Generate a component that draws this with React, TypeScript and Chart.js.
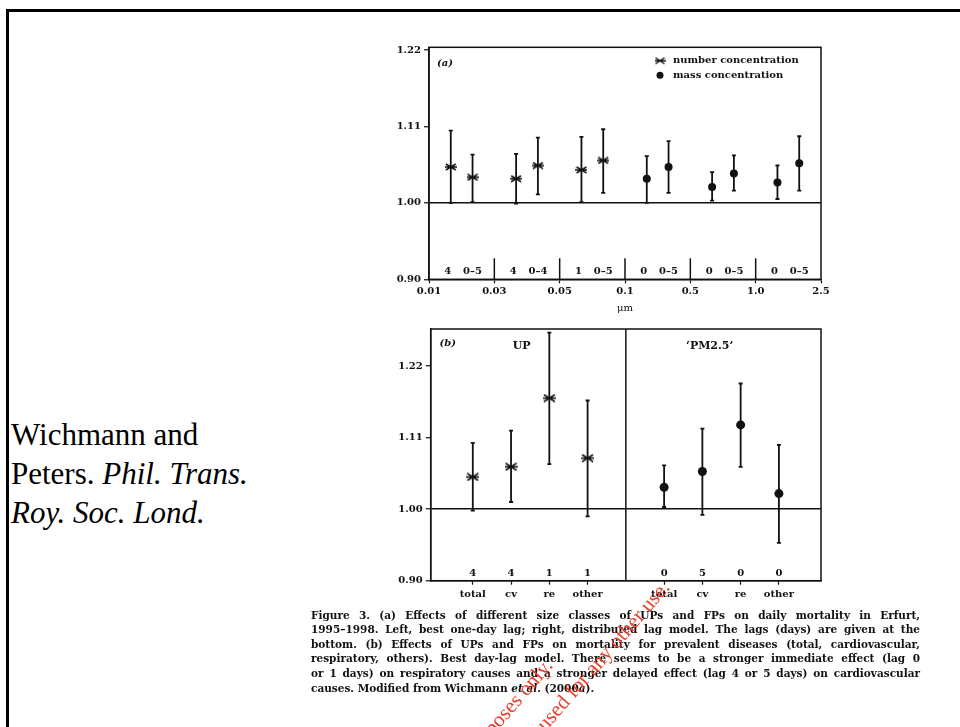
import React, { useEffect, useRef } from 'react';
import { Chart, registerables } from 'chart.js';

Chart.register(...registerables);

// ---------------- data ----------------
// panel (a): size classes (x-axis edges, micrometres)
const sizeClassEdges = ['0.01', '0.03', '0.05', '0.1', '0.5', '1.0', '2.5'];
const sizeClassMetric = ['number', 'number', 'number', 'mass', 'mass', 'mass'];
// left point of each class: best one-day lag
const oneDayLagRR = [1.048, 1.032, 1.044, 1.032, 1.021, 1.027];
const oneDayLagLow = [1.0, 0.999, 1.001, 1.0, 1.003, 1.005];
const oneDayLagHigh = [1.099, 1.066, 1.09, 1.063, 1.041, 1.05];
const oneDayLagDays = ['4', '4', '1', '0', '0', '0'];
// right point of each class: distributed lag model
const distLagRR = [1.034, 1.05, 1.057, 1.048, 1.039, 1.053];
const distLagLow = [1.001, 1.011, 1.013, 1.013, 1.016, 1.016];
const distLagHigh = [1.065, 1.089, 1.101, 1.084, 1.064, 1.091];
const distLagDays = ['0–5', '0–4', '0–5', '0–5', '0–5', '0–5'];

// panel (b): causes of death
const causes = ['total', 'cv', 're', 'other'];
const upRR = [1.046, 1.061, 1.168, 1.074];
const upLow = [0.998, 1.01, 1.065, 0.99];
const upHigh = [1.097, 1.116, 1.28, 1.164];
const upLagDays = ['4', '4', '1', '1'];
const pmRR = [1.031, 1.054, 1.125, 1.022];
const pmLow = [1.003, 0.992, 1.061, 0.954];
const pmHigh = [1.063, 1.119, 1.192, 1.094];
const pmLagDays = ['0', '5', '0', '0'];

// shared y ticks (log scale of relative risk)
const rrTickValues = [0.9048, 1.0, 1.1052, 1.2214];
const rrTickLabels = ['0.90', '1.00', '1.11', '1.22'];

const INK = '#111';
const tickFont = { family: 'DejaVu Serif', size: 10, weight: 'bold' as const };

function asterisk(w: number, h: number, lw: number): HTMLCanvasElement {
  const c = document.createElement('canvas');
  c.width = w;
  c.height = h;
  const g = c.getContext('2d')!;
  g.strokeStyle = INK;
  g.lineWidth = lw;
  g.beginPath();
  g.moveTo(1, 1);
  g.lineTo(w - 1, h - 1);
  g.moveTo(w - 1, 1);
  g.lineTo(1, h - 1);
  g.moveTo(0, h / 2);
  g.lineTo(w, h / 2);
  g.stroke();
  return c;
}

const errorBarPlugin = {
  id: 'errorBars',
  beforeDatasetsDraw(chart: any) {
    const ctx = chart.ctx;
    const xs = chart.scales.x;
    const ys = chart.scales.y;
    ctx.save();
    ctx.strokeStyle = INK;
    ctx.lineWidth = 1.8;
    chart.data.datasets.forEach((ds: any) => {
      ds.data.forEach((d: any) => {
        const px = xs.getPixelForValue(d.x);
        const top = ys.getPixelForValue(d.hi);
        const bot = ys.getPixelForValue(d.lo);
        ctx.beginPath();
        ctx.moveTo(px, top);
        ctx.lineTo(px, bot);
        ctx.moveTo(px - 2, top);
        ctx.lineTo(px + 2, top);
        ctx.moveTo(px - 2, bot);
        ctx.lineTo(px + 2, bot);
        ctx.stroke();
      });
    });
    ctx.restore();
  },
};

const framePlugin = {
  id: 'frame',
  afterDraw(chart: any) {
    const { ctx, chartArea: a } = chart;
    ctx.save();
    ctx.strokeStyle = INK;
    ctx.lineWidth = 1.5;
    ctx.strokeRect(a.left, a.top, a.right - a.left, a.bottom - a.top);
    ctx.restore();
  },
};

function yAxis(min: number, max: number, width: number) {
  return {
    type: 'logarithmic',
    min,
    max,
    afterBuildTicks: (s: any) => {
      s.ticks = rrTickValues.map((v) => ({ value: v }));
    },
    ticks: {
      callback: (_v: any, i: number) => rrTickLabels[i],
      font: tickFont,
      color: INK,
      padding: 3,
      autoSkip: false,
    },
    grid: {
      color: (c: any) => (c.tick && c.tick.value === 1 ? INK : 'rgba(0,0,0,0)'),
      lineWidth: 1.5,
      tickLength: 5,
      tickColor: INK,
      tickWidth: 1.2,
    },
    border: { color: INK, width: 1.5 },
    afterFit: (s: any) => {
      s.width = width;
    },
  };
}

function topConfig(): any {
  const star = asterisk(12, 8, 1.5);
  const legendStar = asterisk(11, 8, 1.5);
  const numberPts: any[] = [];
  const massPts: any[] = [];
  sizeClassMetric.forEach((m, i) => {
    const arr = m === 'number' ? numberPts : massPts;
    arr.push({ x: i + 1 / 3, y: oneDayLagRR[i], lo: oneDayLagLow[i], hi: oneDayLagHigh[i] });
    arr.push({ x: i + 2 / 3, y: distLagRR[i], lo: distLagLow[i], hi: distLagHigh[i] });
  });
  const annotations = {
    id: 'annA',
    afterDraw(chart: any) {
      const { ctx, chartArea: a } = chart;
      const xs = chart.scales.x;
      ctx.save();
      ctx.fillStyle = INK;
      ctx.strokeStyle = INK;
      // separators + lag labels
      ctx.lineWidth = 1.5;
      for (let i = 1; i < sizeClassMetric.length; i++) {
        const px = xs.getPixelForValue(i);
        ctx.beginPath();
        ctx.moveTo(px, a.bottom);
        ctx.lineTo(px, a.bottom - 21);
        ctx.stroke();
      }
      ctx.font = 'bold 10px "DejaVu Serif"';
      ctx.textAlign = 'center';
      ctx.textBaseline = 'middle';
      sizeClassMetric.forEach((_m, i) => {
        ctx.fillText(oneDayLagDays[i], xs.getPixelForValue(i + 1 / 3) - 3, a.bottom - 8);
        ctx.fillText(distLagDays[i], xs.getPixelForValue(i + 2 / 3), a.bottom - 8);
      });
      // panel label
      ctx.font = 'italic bold 10px "DejaVu Serif"';
      ctx.fillText('(a)', a.left + 16, a.top + 16);
      // legend
      ctx.textAlign = 'left';
      ctx.font = 'bold 10px "DejaVu Serif"';
      const lx = a.left + 231;
      ctx.drawImage(legendStar, lx - 5.5, a.top + 13.4 - 4);
      ctx.fillText(chart.data.datasets[0].label, lx + 13, a.top + 13.4);
      ctx.beginPath();
      ctx.arc(lx, a.top + 28, 3.5, 0, Math.PI * 2);
      ctx.fill();
      ctx.fillText(chart.data.datasets[1].label, lx + 13, a.top + 28);
      ctx.restore();
    },
  };
  return {
    type: 'scatter',
    data: {
      datasets: [
        { label: 'number concentration', data: numberPts, pointStyle: star, pointRadius: 6, borderColor: INK, backgroundColor: INK },
        { label: 'mass concentration', data: massPts, pointStyle: 'circle', pointRadius: 4, borderWidth: 0, borderColor: INK, backgroundColor: INK },
      ],
    },
    options: {
      animation: false,
      responsive: false,
      events: [],
      layout: { padding: { left: 0, top: 10.3, right: 19, bottom: 0 } },
      plugins: { legend: { display: false }, tooltip: { enabled: false } },
      scales: {
        x: {
          type: 'linear',
          min: 0,
          max: sizeClassEdges.length - 1,
          afterBuildTicks: (s: any) => {
            s.ticks = sizeClassEdges.map((_l, i) => ({ value: i }));
          },
          ticks: {
            callback: (_v: any, i: number) => sizeClassEdges[i],
            font: tickFont,
            color: INK,
            padding: 2,
            maxRotation: 0,
            autoSkip: false,
          },
          grid: { drawOnChartArea: false, tickLength: 4, tickColor: INK, tickWidth: 1.2 },
          border: { color: INK, width: 1.5 },
          title: { display: true, text: 'μm', font: { family: 'DejaVu Serif', size: 10 }, color: INK, padding: { top: 0, bottom: 8 } },
          afterFit: (s: any) => {
            s.height = 42.7;
          },
        },
        y: yAxis(0.9048, 1.2256, 49),
      },
    },
    plugins: [errorBarPlugin, framePlugin, annotations],
  };
}

function bottomConfig(): any {
  const star = asterisk(13, 9, 1.5);
  const n = causes.length;
  const upPts = causes.map((_c, i) => ({ x: i + 1, y: upRR[i], lo: upLow[i], hi: upHigh[i] }));
  const pmPts = causes.map((_c, i) => ({ x: i + n + 2, y: pmRR[i], lo: pmLow[i], hi: pmHigh[i] }));
  const tickPos = [...upPts.map((p) => p.x), ...pmPts.map((p) => p.x)];
  const tickLabels = [...causes, ...causes];
  const annotations = {
    id: 'annB',
    afterDraw(chart: any) {
      const { ctx, chartArea: a } = chart;
      const xs = chart.scales.x;
      ctx.save();
      ctx.fillStyle = INK;
      ctx.strokeStyle = INK;
      ctx.lineWidth = 1.5;
      const dx = xs.getPixelForValue(n + 1);
      ctx.beginPath();
      ctx.moveTo(dx, a.top);
      ctx.lineTo(dx, a.bottom);
      ctx.stroke();
      ctx.font = 'bold 10px "DejaVu Serif"';
      ctx.textAlign = 'center';
      ctx.textBaseline = 'middle';
      upPts.forEach((p, i) => ctx.fillText(upLagDays[i], xs.getPixelForValue(p.x), a.bottom - 7.5));
      pmPts.forEach((p, i) => ctx.fillText(pmLagDays[i], xs.getPixelForValue(p.x), a.bottom - 7.5));
      ctx.font = 'bold 11px "DejaVu Serif"';
      ctx.fillText('UP', a.left + 91, a.top + 17);
      ctx.fillText('‘PM2.5’', a.left + 279, a.top + 17);
      ctx.font = 'italic bold 10px "DejaVu Serif"';
      ctx.fillText('(b)', a.left + 17, a.top + 14);
      ctx.restore();
    },
  };
  return {
    type: 'scatter',
    data: {
      datasets: [
        { label: 'UP', data: upPts, pointStyle: star, pointRadius: 6, borderColor: INK, backgroundColor: INK },
        { label: 'PM2.5', data: pmPts, pointStyle: 'circle', pointRadius: 4.5, borderWidth: 0, borderColor: INK, backgroundColor: INK },
      ],
    },
    options: {
      animation: false,
      responsive: false,
      events: [],
      layout: { padding: { left: 0, top: 9, right: 19, bottom: 0 } },
      plugins: { legend: { display: false }, tooltip: { enabled: false } },
      scales: {
        x: {
          type: 'linear',
          min: -0.1,
          max: 2 * n + 2.1,
          afterBuildTicks: (s: any) => {
            s.ticks = tickPos.map((v) => ({ value: v }));
          },
          ticks: {
            callback: (_v: any, i: number) => tickLabels[i],
            font: tickFont,
            color: INK,
            padding: 3.3,
            maxRotation: 0,
            autoSkip: false,
          },
          grid: { drawOnChartArea: false, tickLength: 4, tickColor: INK, tickWidth: 1.2 },
          border: { color: INK, width: 1.5 },
          afterFit: (s: any) => {
            s.height = 29.3;
          },
        },
        y: yAxis(0.9048, 1.2864, 50.7),
      },
    },
    plugins: [errorBarPlugin, framePlugin, annotations],
  };
}

function ChartCanvas(props: { make: () => any; left: number; top: number; width: number; height: number }) {
  const ref = useRef<HTMLCanvasElement | null>(null);
  useEffect(() => {
    const chart = new Chart(ref.current!, props.make());
    return () => chart.destroy();
  }, []);
  return (
    <canvas
      ref={ref}
      width={props.width}
      height={props.height}
      style={{ position: 'absolute', left: props.left, top: props.top, width: props.width, height: props.height }}
    />
  );
}

const captionLines = [
  'Figure 3. (a) Effects of different size classes of UPs and FPs on daily mortality in Erfurt,',
  '1995–1998. Left, best one-day lag; right, distributed lag model. The lags (days) are given at the',
  'bottom. (b) Effects of UPs and FPs on mortality for prevalent diseases (total, cardiovascular,',
  'respiratory, others). Best day-lag model. There seems to be a stronger immediate effect (lag 0',
  'or 1 days) on respiratory causes and a stronger delayed effect (lag 4 or 5 days) on cardiovascular',
];

function Watermark(props: { text: string; ex: number; ey: number }) {
  const W = 420;
  const H = 20;
  return (
    <div
      style={{
        position: 'absolute',
        left: props.ex - W,
        top: props.ey - H,
        width: W,
        height: H,
        lineHeight: H + 'px',
        textAlign: 'right',
        whiteSpace: 'nowrap',
        fontFamily: '"Liberation Serif", serif',
        fontSize: 21,
        color: 'rgb(232,64,44)',
        transformOrigin: '100% 100%',
        transform: 'rotate(-49deg)',
      }}
    >
      {props.text}
    </div>
  );
}

export default function App() {
  return (
    <div
      style={{
        position: 'fixed',
        left: 0,
        top: 0,
        width: 960,
        height: 727,
        overflow: 'hidden',
        background: '#fff',
        color: '#000',
      }}
    >
      {/* slide frame */}
      <div style={{ position: 'absolute', left: 6, top: 9, width: 960, height: 3, background: '#000' }} />
      <div style={{ position: 'absolute', left: 6, top: 9, width: 2.5, height: 720, background: '#000' }} />

      {/* reference text */}
      <div
        style={{
          position: 'absolute',
          left: 11,
          top: 415,
          fontFamily: '"Liberation Serif", serif',
          fontSize: 31,
          lineHeight: '39px',
          whiteSpace: 'nowrap',
        }}
      >
        <div>Wichmann and</div>
        <div>
          Peters. <i>Phil. Trans.</i>
        </div>
        <div>
          <i>Roy. Soc. Lond.</i>
        </div>
      </div>

      <ChartCanvas make={topConfig} left={380} top={37} width={460} height={285} />
      <ChartCanvas make={bottomConfig} left={380} top={320} width={460} height={290} />

      {/* caption */}
      <div
        style={{
          position: 'absolute',
          left: 311,
          top: 607.7,
          width: 609,
          fontFamily: '"DejaVu Serif", serif',
          fontWeight: 'bold',
          fontSize: 10.5,
          lineHeight: '14.6px',
          color: '#111',
        }}
      >
        {captionLines.map((l, i) => (
          <div key={i} style={{ textAlign: 'justify', textAlignLast: 'justify', whiteSpace: 'nowrap' as any }}>
            {l}
          </div>
        ))}
        <div>
          causes. Modified from Wichmann <i>et al.</i> (2000<i>a</i>).
        </div>
      </div>

      <Watermark text="for educational purposes only." ex={556} ey={668} />
      <Watermark text="Not to be used for any other use." ex={673} ey={590} />
    </div>
  );
}
